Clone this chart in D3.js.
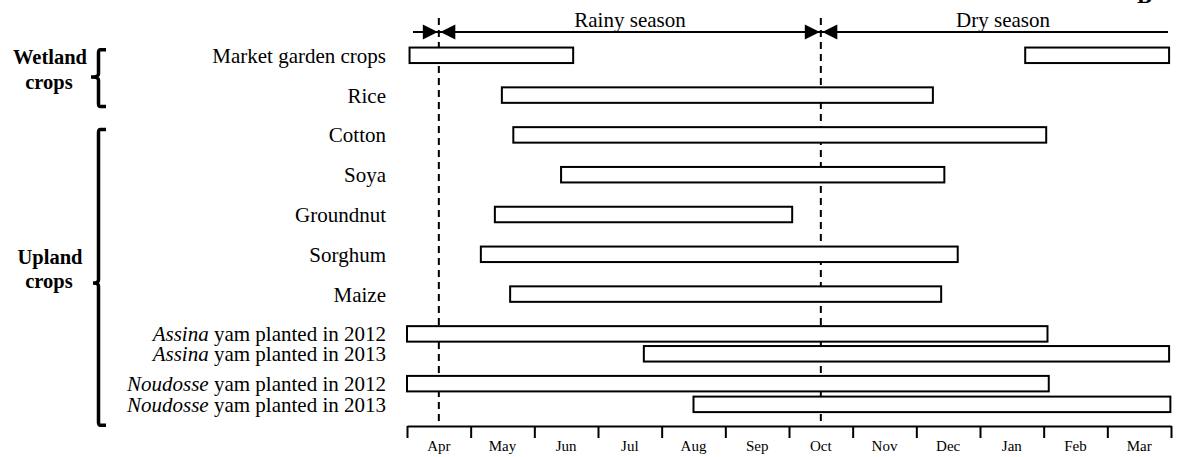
<!DOCTYPE html>
<html>
<head>
<meta charset="utf-8">
<script src="https://cdn.jsdelivr.net/npm/d3@7"></script>
<style>
  html, body { margin: 0; padding: 0; background: #fff; }
  svg { display: block; font-family: "Liberation Serif", "Times New Roman", serif; }
</style>
</head>
<body>
<svg id="chart" width="1177" height="457"></svg>
<script>
// ---- data ----
const months = ["Apr","May","Jun","Jul","Aug","Sep","Oct","Nov","Dec","Jan","Feb","Mar"];
const cropItalic = ["", "", "", "", "", "", "", "Assina", "Assina", "Noudosse", "Noudosse"];
const cropText = ["Market garden crops", "Rice", "Cotton", "Soya", "Groundnut", "Sorghum", "Maize",
  " yam planted in 2012", " yam planted in 2013", " yam planted in 2012", " yam planted in 2013"];
// crop periods, in months counted from 1 April
const segCrop  = [0, 0, 1, 2, 3, 4, 5, 6, 7, 8, 9, 10];
const segStart = [0.04, 9.71, 1.49, 1.67, 2.42, 1.38, 1.16, 1.62, 0.00, 3.72, 0.00, 4.50];
const segEnd   = [2.61, 11.97, 8.26, 10.04, 8.44, 6.05, 8.65, 8.39, 10.06, 11.97, 10.08, 11.99];
const seasonNames = ["Rainy season", "Dry season"];
const seasonBounds = [0.5, 6.5];
const groupNames = [["Wetland", "crops"], ["Upland", "crops"]];
const groupFirst = [0, 2];
const groupLast = [1, 10];

// ---- layout ----
const rowSlot = [0, 1, 2, 3, 4, 5, 6, 7, 7.5, 8.25, 8.77];
const groupBotPad = [11.5, 21];
const groupTip = [77, 283];
const groupTipX = [91, 93];
const groupLabelY = [[63.5, 88.5], [264, 287.5]];
const seasonLabelX = [630, 1003];

const svg = d3.select("#chart");
const x = d3.scaleLinear().domain([0, 12]).range([407, 1171]);
const y = d3.scaleLinear().domain([0, 1]).range([55.3, 95.1]);
const rowY = i => y(rowSlot[i]);
const barH = 15.5;
const axisY = 426;

// dashed season boundaries
svg.append("g").selectAll("line").data(seasonBounds).join("line")
  .attr("x1", d => x(d)).attr("x2", d => x(d))
  .attr("y1", 18).attr("y2", axisY)
  .attr("stroke", "#000").attr("stroke-width", 2)
  .attr("stroke-dasharray", "7,5");

// bars
svg.append("g").selectAll("rect").data(segCrop.map((c, i) => i)).join("rect")
  .attr("x", i => x(segStart[i]))
  .attr("width", i => x(segEnd[i]) - x(segStart[i]))
  .attr("y", i => rowY(segCrop[i]) - barH / 2)
  .attr("height", barH)
  .attr("fill", "#fff").attr("stroke", "#000").attr("stroke-width", 2);

// crop labels
const lab = svg.append("g").selectAll("text").data(cropText.map((t, i) => i)).join("text")
  .attr("x", 386).attr("y", i => rowY(i) + 7.5)
  .attr("text-anchor", "end").attr("font-size", 21).attr("fill", "#000");
lab.filter(i => cropItalic[i]).append("tspan").attr("font-style", "italic").text(i => cropItalic[i]);
lab.append("tspan").text(i => cropText[i]);

// group labels and braces
const groups = svg.append("g");
groupNames.forEach((g, k) => {
  const top = rowY(groupFirst[k]) - 5.5;
  const bot = rowY(groupLast[k]) + groupBotPad[k];
  const mid = groupTip[k];
  const bx = 98.5, hx = 106, tx = groupTipX[k];
  groups.append("path")
    .attr("d", `M${hx},${top} L${bx + 2},${top} Q${bx},${top} ${bx},${top + 3} L${bx},${mid - 3} Q${bx},${mid} ${tx},${mid} Q${bx},${mid} ${bx},${mid + 3} L${bx},${bot - 3} Q${bx},${bot} ${bx + 2},${bot} L${hx},${bot}`)
    .attr("fill", "none").attr("stroke", "#000").attr("stroke-width", 3.5);
  groups.append("text").attr("x", 50).attr("y", groupLabelY[k][0])
    .attr("text-anchor", "middle").attr("font-weight", "bold").attr("font-size", 20.5).text(g[0]);
  groups.append("text").attr("x", 49).attr("y", groupLabelY[k][1])
    .attr("text-anchor", "middle").attr("font-weight", "bold").attr("font-size", 20.5).text(g[1]);
});

// season arrows
const sy = 32;
const sg = svg.append("g");
sg.append("line").attr("x1", 413).attr("x2", x(12) - 3).attr("y1", sy).attr("y2", sy)
  .attr("stroke", "#000").attr("stroke-width", 2);
const tri = (tip, dir) => {
  const b = tip - dir * 15;
  return `M${tip},${sy} L${b},${sy - 7.5} L${b},${sy + 7.5} Z`;
};
seasonBounds.forEach(m => {
  sg.append("path").attr("d", tri(x(m) - 1, 1)).attr("fill", "#000");
  sg.append("path").attr("d", tri(x(m) + 1.5, -1)).attr("fill", "#000");
});
sg.selectAll("text").data(seasonNames.map((s, i) => i)).join("text")
  .attr("x", i => seasonLabelX[i])
  .attr("y", 27).attr("text-anchor", "middle").attr("font-size", 21)
  .text(i => seasonNames[i]);

// axis
const axis = d3.axisBottom(x).tickValues(d3.range(0, 13)).tickFormat("").tickSize(12).tickSizeOuter(0);
const ag = svg.append("g").attr("transform", `translate(0,${axisY})`).call(axis);
ag.select(".domain").attr("stroke", "#000").attr("stroke-width", 2);
ag.selectAll(".tick line").attr("stroke", "#000").attr("stroke-width", 2);
svg.append("g").selectAll("text").data(months).join("text")
  .attr("x", (d, i) => x(i + 0.5)).attr("y", 451)
  .attr("text-anchor", "middle").attr("font-size", 15).text(d => d);

// panel letter
svg.append("text").attr("x", 1137).attr("y", 3).attr("font-weight", "bold")
  .attr("font-size", 22).text("B");
</script>
</body>
</html>
